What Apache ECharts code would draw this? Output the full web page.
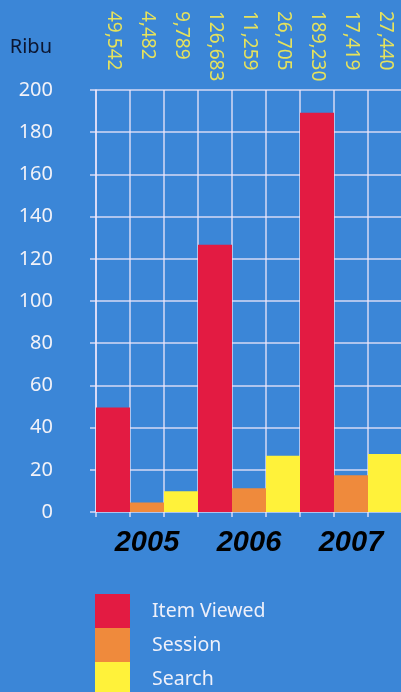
<!DOCTYPE html>
<html>
<head>
    <meta charset="UTF-8">
    <title>Ribu</title>
    <script src="https://cdn.jsdelivr.net/npm/echarts@6/dist/echarts.min.js"></script>
    <style>
        html, body { margin: 0; padding: 0; background: #3b86d7; }
        #chart { width: 401px; height: 692px; }
    </style>
</head>
<body>
<div id="chart"></div>
<script type="text/javascript">
    // data, raw counts (chart shows thousands = "Ribu")
    var years = ['2005', '2006', '2007'];
    var seriesNames = ['Item Viewed', 'Session', 'Search'];
    var itemViewed = [49542, 126683, 189230];
    var session = [4482, 11259, 17419];
    var search = [9789, 26705, 27440];
    var yTicks = [0, 20, 40, 60, 80, 100, 120, 140, 160, 180, 200];

    var colors = ['#e31b42', '#ef8a3c', '#fff23a'];
    var allSeries = [itemViewed, session, search];

    // top labels: one per bar, year by year
    var topLabels = [];
    for (var y = 0; y < years.length; y++) {
        for (var s = 0; s < allSeries.length; s++) {
            topLabels.push(allSeries[s][y].toLocaleString('en-US'));
        }
    }

    function toRibu(arr) {
        return arr.map(function (v) { return v / 1000; });
    }

    var gridColor = 'rgba(240,232,250,0.85)';
    var myChart = echarts.init(document.getElementById('chart'));
    var option = {
        backgroundColor: '#3b86d7',
        animation: false,
        grid: { left: 96, top: 90, width: 306, bottom: 180, containLabel: false, outerBoundsMode: 'none' },
        legend: {
            orient: 'vertical',
            left: 95,
            top: 594,
            height: 150,
            padding: 0,
            itemWidth: 35,
            itemHeight: 34,
            itemGap: 0,
            icon: 'rect',
            data: seriesNames,
            textStyle: {
                color: '#eef0fa',
                fontFamily: 'Noto Sans',
                fontSize: 19.5,
                padding: [0, 0, 0, 17]
            }
        },
        xAxis: [{
            type: 'category',
            position: 'bottom',
            data: years,
            boundaryGap: true,
            axisLine: { show: false },
            axisTick: { show: false },
            splitLine: { show: false },
            axisLabel: {
                color: '#000',
                fontFamily: 'Liberation Sans',
                fontWeight: 'bold',
                fontStyle: 'italic',
                fontSize: 29,
                margin: 16,
                verticalAlign: 'top',
                lineHeight: 29
            }
        }, {
            type: 'category',
            position: 'top',
            offset: 79,
            data: topLabels,
            boundaryGap: true,
            axisLine: { show: false },
            axisTick: { show: false },
            splitLine: { show: false },
            axisLabel: {
                interval: 0,
                rotate: 90,
                align: 'left',
                verticalAlign: 'middle',
                margin: 0,
                color: '#e6e25c',
                fontFamily: 'Noto Sans',
                fontSize: 19
            }
        }, {
            type: 'value',
            position: 'bottom',
            min: 0,
            max: 9,
            interval: 1,
            axisLine: { show: false },
            axisLabel: { show: false },
            axisTick: { show: true, length: 5, lineStyle: { color: gridColor, width: 1.5 } },
            splitLine: { show: true, lineStyle: { color: gridColor, width: 1.5 } }
        }],
        yAxis: {
            type: 'value',
            min: yTicks[0],
            max: yTicks[yTicks.length - 1],
            interval: 20,
            name: 'Ribu',
            nameLocation: 'end',
            nameGap: 33,
            nameTextStyle: {
                color: '#0c1630',
                fontFamily: 'Noto Sans',
                fontSize: 20,
                align: 'right',
                padding: [0, 44, 0, 0]
            },
            axisLine: { show: true, lineStyle: { color: gridColor, width: 1.5 } },
            axisTick: { show: true, length: 6, lineStyle: { color: gridColor, width: 1.5 } },
            splitLine: { show: true, lineStyle: { color: gridColor, width: 1.5 } },
            axisLabel: {
                color: '#f2f2f8',
                fontFamily: 'Noto Sans',
                fontSize: 20,
                margin: 43
            }
        },
        series: seriesNames.map(function (name, i) {
            return {
                name: name,
                type: 'bar',
                xAxisIndex: 0,
                barGap: '0%',
                barCategoryGap: '0%',
                itemStyle: { color: colors[i] },
                data: toRibu(allSeries[i])
            };
        })
    };
    myChart.setOption(option);
</script>
</body>
</html>
